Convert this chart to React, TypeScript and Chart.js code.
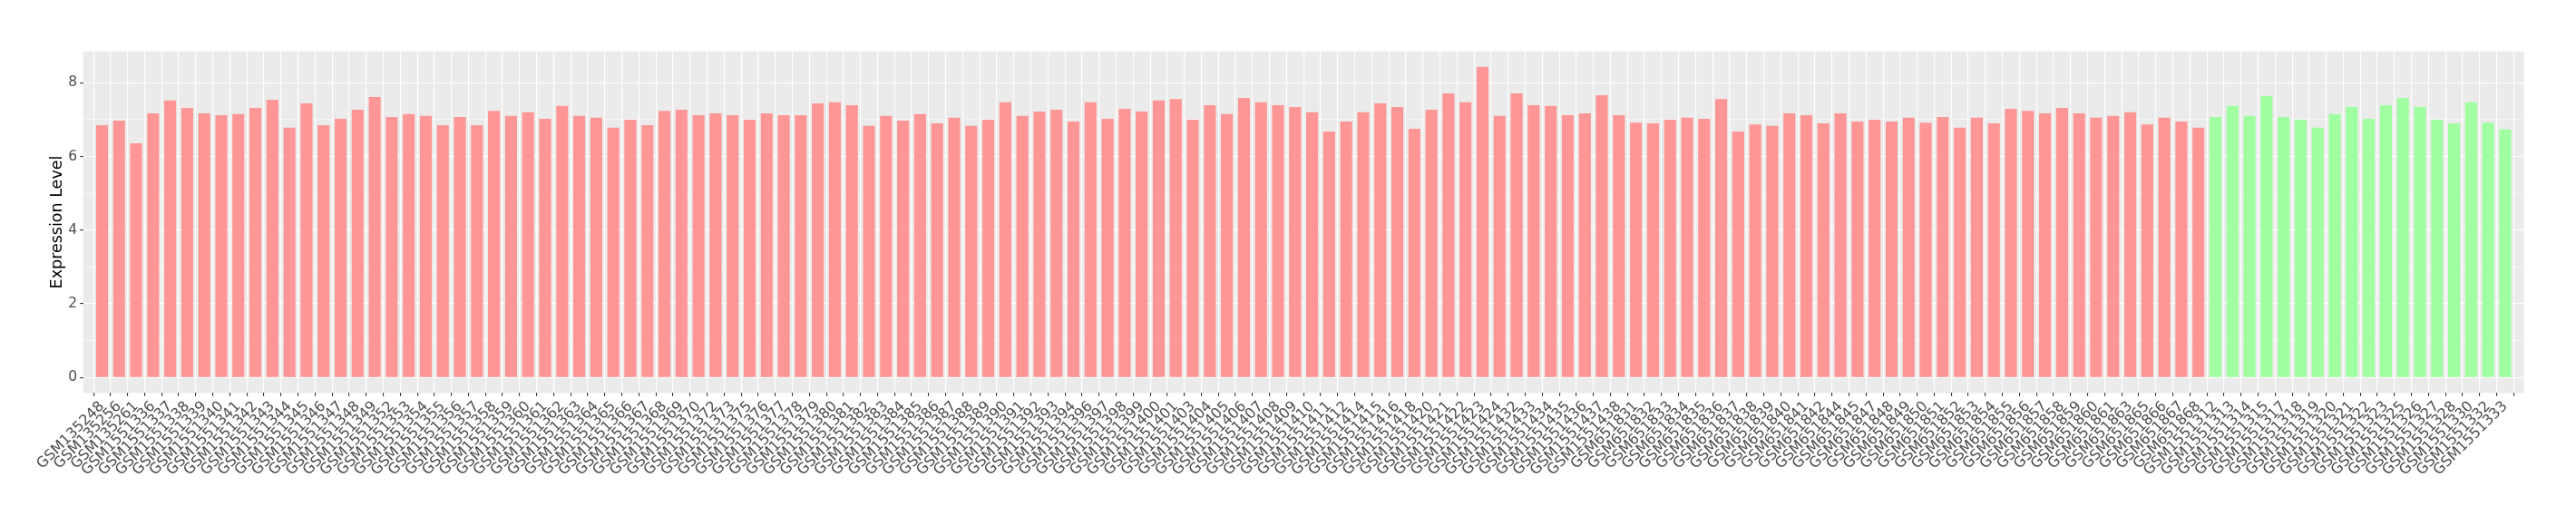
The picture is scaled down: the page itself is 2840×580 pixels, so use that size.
import React, { useEffect, useRef } from 'react';
import { Chart, registerables } from 'chart.js';

Chart.register(...registerables);

const sampleIds: string[] = [
  'GSM135248', 'GSM135256', 'GSM135261', 'GSM1551336', 'GSM1551337', 'GSM1551338', 'GSM1551339', 'GSM1551340',
  'GSM1551341', 'GSM1551342', 'GSM1551343', 'GSM1551344', 'GSM1551345', 'GSM1551346', 'GSM1551347', 'GSM1551348',
  'GSM1551349', 'GSM1551352', 'GSM1551353', 'GSM1551354', 'GSM1551355', 'GSM1551356', 'GSM1551357', 'GSM1551358',
  'GSM1551359', 'GSM1551360', 'GSM1551361', 'GSM1551362', 'GSM1551363', 'GSM1551364', 'GSM1551365', 'GSM1551366',
  'GSM1551367', 'GSM1551368', 'GSM1551369', 'GSM1551370', 'GSM1551372', 'GSM1551373', 'GSM1551375', 'GSM1551376',
  'GSM1551377', 'GSM1551378', 'GSM1551379', 'GSM1551380', 'GSM1551381', 'GSM1551382', 'GSM1551383', 'GSM1551384',
  'GSM1551385', 'GSM1551386', 'GSM1551387', 'GSM1551388', 'GSM1551389', 'GSM1551390', 'GSM1551391', 'GSM1551392',
  'GSM1551393', 'GSM1551394', 'GSM1551396', 'GSM1551397', 'GSM1551398', 'GSM1551399', 'GSM1551400', 'GSM1551401',
  'GSM1551403', 'GSM1551404', 'GSM1551405', 'GSM1551406', 'GSM1551407', 'GSM1551408', 'GSM1551409', 'GSM1551410',
  'GSM1551411', 'GSM1551412', 'GSM1551414', 'GSM1551415', 'GSM1551416', 'GSM1551418', 'GSM1551420', 'GSM1551421',
  'GSM1551422', 'GSM1551423', 'GSM1551424', 'GSM1551432', 'GSM1551433', 'GSM1551434', 'GSM1551435', 'GSM1551436',
  'GSM1551437', 'GSM1551438', 'GSM651831', 'GSM651832', 'GSM651833', 'GSM651834', 'GSM651835', 'GSM651836',
  'GSM651837', 'GSM651838', 'GSM651839', 'GSM651840', 'GSM651841', 'GSM651842', 'GSM651844', 'GSM651845',
  'GSM651847', 'GSM651848', 'GSM651849', 'GSM651850', 'GSM651851', 'GSM651852', 'GSM651853', 'GSM651854',
  'GSM651855', 'GSM651856', 'GSM651857', 'GSM651858', 'GSM651859', 'GSM651860', 'GSM651861', 'GSM651863',
  'GSM651865', 'GSM651866', 'GSM651867', 'GSM651868', 'GSM1551312', 'GSM1551313', 'GSM1551314', 'GSM1551315',
  'GSM1551317', 'GSM1551318', 'GSM1551319', 'GSM1551320', 'GSM1551321', 'GSM1551322', 'GSM1551323', 'GSM1551325',
  'GSM1551326', 'GSM1551327', 'GSM1551328', 'GSM1551330', 'GSM1551332', 'GSM1551333',
];

const expressionLevels: number[] = [
  6.85, 6.97, 6.36, 7.17, 7.52, 7.32, 7.17, 7.12,
  7.15, 7.32, 7.54, 6.78, 7.44, 6.85, 7.02, 7.27,
  7.61, 7.07, 7.15, 7.10, 6.85, 7.07, 6.85, 7.24,
  7.10, 7.20, 7.02, 7.37, 7.10, 7.05, 6.78, 7.00,
  6.85, 7.24, 7.27, 7.12, 7.17, 7.12, 7.00, 7.17,
  7.12, 7.12, 7.44, 7.47, 7.39, 6.83, 7.10, 6.97,
  7.15, 6.90, 7.05, 6.83, 7.00, 7.47, 7.10, 7.22,
  7.27, 6.95, 7.47, 7.02, 7.29, 7.22, 7.52, 7.56,
  7.00, 7.39, 7.15, 7.59, 7.47, 7.39, 7.34, 7.20,
  6.68, 6.95, 7.20, 7.44, 7.34, 6.75, 7.27, 7.71,
  7.47, 8.43, 7.10, 7.71, 7.39, 7.37, 7.12, 7.17,
  7.66, 7.12, 6.92, 6.90, 7.00, 7.05, 7.02, 7.56,
  6.68, 6.87, 6.83, 7.17, 7.12, 6.90, 7.17, 6.95,
  7.00, 6.95, 7.05, 6.92, 7.07, 6.78, 7.05, 6.90,
  7.29, 7.24, 7.17, 7.32, 7.17, 7.05, 7.10, 7.20,
  6.87, 7.05, 6.95, 6.78, 7.07, 7.37, 7.10, 7.64,
  7.07, 7.00, 6.78, 7.15, 7.34, 7.02, 7.39, 7.59,
  7.34, 7.00, 6.90, 7.47, 6.92, 6.73,
];

// first sample of the second (green) group
const groupBStartId = 'GSM1551312';

const yTickValues: number[] = [0, 1, 2, 3, 4, 5, 6, 7, 8];
const yTickLabels: string[] = ['0', '', '2', '', '4', '', '6', '', '8'];

const GROUP_A_COLOR = 'rgb(255,150,150)';
const GROUP_B_COLOR = 'rgb(160,255,160)';
const FONT = 'DejaVu Sans';

const panelBackground = {
  id: 'panelBackground',
  beforeDraw(chart: any) {
    const { ctx, chartArea: a } = chart;
    ctx.save();
    ctx.fillStyle = '#EBEBEB';
    ctx.fillRect(a.left, a.top, a.right - a.left, a.bottom - a.top);
    ctx.restore();
  },
};

export default function App() {
  const canvasRef = useRef<HTMLCanvasElement | null>(null);

  useEffect(() => {
    if (!canvasRef.current) return;
    const n = sampleIds.length;
    const bStart = sampleIds.indexOf(groupBStartId);
    const colors = sampleIds.map((_, i) => (i >= bStart ? GROUP_B_COLOR : GROUP_A_COLOR));
    const vMax = Math.max(...expressionLevels);

    const chart = new Chart(canvasRef.current, {
      type: 'bar',
      data: {
        datasets: [
          {
            data: sampleIds.map((_, i) => ({ x: i, y: expressionLevels[i] })),
            backgroundColor: colors,
            borderWidth: 0,
            barPercentage: 0.7,
            categoryPercentage: 1,
          },
        ],
      },
      options: {
        animation: false,
        responsive: false,
        devicePixelRatio: 1,
        layout: { padding: { left: 0, top: 56.7, right: 57.3, bottom: 0 } },
        plugins: { legend: { display: false }, tooltip: { enabled: false } },
        scales: {
          x: {
            type: 'linear',
            min: -0.6,
            max: n - 1 + 0.6,
            afterBuildTicks: (s: any) => {
              s.ticks = sampleIds.map((_, i) => ({ value: i }));
            },
            afterFit: (s: any) => {
              s.height = 146.7;
            },
            ticks: {
              autoSkip: false,
              minRotation: 45,
              maxRotation: 45,
              padding: 2,
              color: '#4D4D4D',
              font: { family: FONT, size: 16 },
              callback: (v: any) => sampleIds[v] ?? '',
            },
            grid: {
              color: '#FFFFFF',
              lineWidth: 1.1,
              tickColor: '#333333',
              tickLength: 3.5,
              tickWidth: 1.1,
            },
            border: { display: false },
          },
          y: {
            type: 'linear',
            min: -vMax * 0.05,
            max: vMax * 1.05,
            afterBuildTicks: (s: any) => {
              s.ticks = yTickValues.map((v) => ({ value: v }));
            },
            afterFit: (s: any) => {
              s.width = 91.7;
            },
            ticks: {
              padding: 3.2,
              color: '#4D4D4D',
              font: { family: FONT, size: 15.5 },
              callback: (v: any) => yTickLabels[yTickValues.indexOf(v)] ?? '',
            },
            grid: {
              color: '#FFFFFF',
              lineWidth: (c: any) => (c.tick && c.tick.value % 2 === 0 ? 1.1 : 0.55),
              tickColor: (c: any) => (c.tick && c.tick.value % 2 === 0 ? '#333333' : 'rgba(0,0,0,0)'),
              tickLength: 3.5,
              tickWidth: 1.1,
            },
            border: { display: false },
            title: {
              display: true,
              text: 'Expression Level',
              color: '#000000',
              font: { family: FONT, size: 17.5 },
              padding: { top: 53, bottom: 0 },
            },
          },
        },
      },
      plugins: [panelBackground],
    });
    return () => chart.destroy();
  }, []);

  return (
    <div style={{ position: 'absolute', left: 0, top: 0, width: 2840, height: 580, background: '#FFFFFF' }}>
      <canvas ref={canvasRef} width={2840} height={580} style={{ display: 'block', width: 2840, height: 580 }} />
    </div>
  );
}
